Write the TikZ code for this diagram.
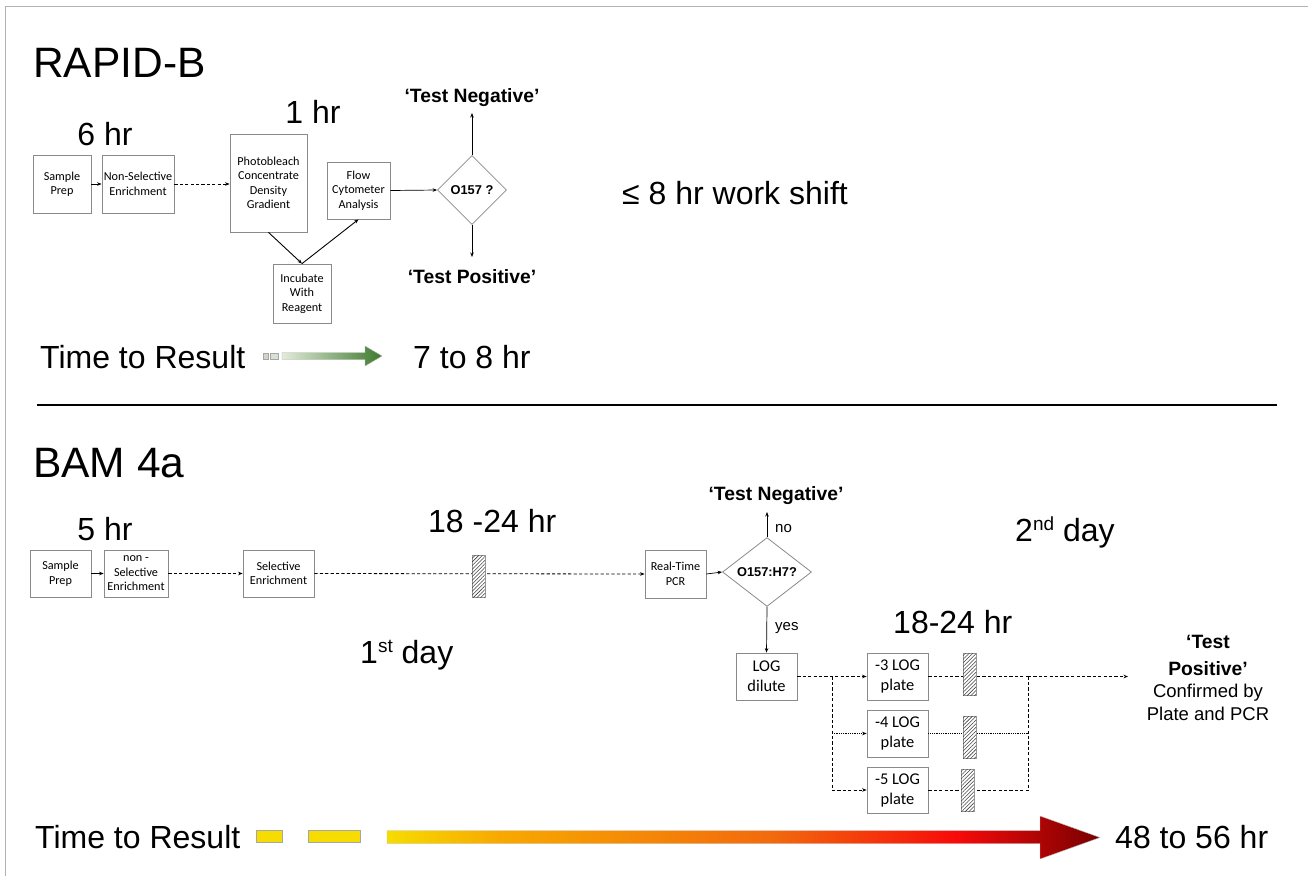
\documentclass[tikz,border=0pt]{standalone}
\usepackage{fontspec}
\setmainfont{Liberation Sans}
\newfontfamily\carl{Carlito}
\usetikzlibrary{shapes.geometric,patterns.meta,arrows.meta}
\definecolor{boxgray}{HTML}{8A8A8A}
\definecolor{gA}{HTML}{E2ECD9}
\definecolor{gB}{HTML}{3C7A2C}
\definecolor{yl}{HTML}{F6DC00}
\definecolor{orA}{HTML}{F8A800}
\definecolor{orB}{HTML}{F26A0C}
\definecolor{rd}{HTML}{F70A0A}
\definecolor{drd}{HTML}{780000}
\pgfdeclarehorizontalshading{heat}{100bp}{color(0bp)=(yl); color(25bp)=(yl); color(33bp)=(orA); color(52bp)=(orB); color(65bp)=(rd); color(75bp)=(drd); color(100bp)=(drd)}
\tikzset{
  box/.style={draw=boxgray, line width=0.8pt, fill=white, align=center, inner sep=0pt,
    font=\carl\fontsize{12.2}{14.5}\selectfont},
  bigbox/.style={box, font=\carl\fontsize{16.4}{20}\selectfont},
  dia/.style={diamond, draw=boxgray, line width=0.8pt, fill=white, inner sep=0pt,
    font=\bfseries\fontsize{12.8}{14}\selectfont},
  arr/.style={-{Stealth[length=4.5pt,width=3.5pt]}, line width=0.7pt},
  dsh/.style={dash pattern=on 3.2pt off 2.2pt, line width=0.8pt},
  dtt/.style={dash pattern=on 0.9pt off 0.9pt, line width=0.7pt},
  hatchbox/.style={draw=gray!80, line width=0.6pt, fill=white, inner sep=0pt,
    postaction={pattern={Lines[angle=45,distance=2.6pt,line width=0.55pt]}, pattern color=black!75}},
  big/.style={font=\fontsize{32}{36}\selectfont, inner sep=0pt},
  title/.style={font=\fontsize{42.5}{48}\selectfont, inner sep=0pt},
  res/.style={font=\bfseries\fontsize{19.3}{22}\selectfont, inner sep=0pt},
  small/.style={font=\fontsize{15}{18}\selectfont, inner sep=0pt},
}
\begin{document}
\begin{tikzpicture}[x=1pt,y=-1pt]
\useasboundingbox (0,0) rectangle (1308,876);
\draw[gray!60, line width=0.8pt] (5,876) -- (5,6) -- (1308,6);

% ================= RAPID-B =================
\node[title, anchor=base west] (t1) at (33,77) {RAPID-B};
\node[big, anchor=base] (h6) at (105,145) {6 hr};
\node[big, anchor=base] (h1) at (313,123) {1 hr};
\node[big, anchor=base west] (shift) at (622,204) {≤ 8 hr work shift};

\node[box, minimum width=58, minimum height=58] (sp1) at (62,184) {Sample\\Prep};
\node[box, minimum width=72, minimum height=58] (nse1) at (138,184) {Non-Selective\\Enrichment};
\node[box, minimum width=77, minimum height=98] (pb) at (268.5,183) {Photobleach\\Concentrate\\Density\\Gradient};
\node[box, minimum width=63, minimum height=57] (fc) at (358.5,190.5) {Flow\\Cytometer\\Analysis};
\node[box, minimum width=58, minimum height=59] (inc) at (302,293.5) {Incubate\\With\\Reagent};
\node[dia, minimum width=69, minimum height=69] (d1) at (472,190) {O157 ?};

\coordinate (n1) at (472,113);
\coordinate (p1) at (472,257);
\node[res, anchor=base] (neg1) at (472,102) {‘Test Negative’};
\node[res, anchor=base] (pos1) at (472,283) {‘Test Positive’};

\draw[arr] (sp1.east) -- (nse1.west);
\draw[arr, dsh] (nse1.east) -- (pb.west |- nse1.east);
\draw[arr, line width=0.9pt] (pb.south) -- (inc.north);
\draw[arr, line width=0.9pt] (inc.north) -- (fc.south);
\draw[arr] (fc.east) -- (d1.west);
\draw[arr] (d1.north) -- (n1);
\draw[arr] (d1.south) -- (p1);

\node[big, anchor=base west] (ttr1) at (40,368) {Time to Result};
\node[big, anchor=base west] (r1) at (413,368) {7 to 8 hr};
\filldraw[fill=gA!80!gray, draw=gray!70, line width=0.5pt] (263,353) rectangle (268,359);
\filldraw[fill=gA!90!gray, draw=gray!70, line width=0.5pt] (270,353) rectangle (278,359);
\shade[left color=gA, right color=gB, draw=gray!60, line width=0.4pt]
  (282,352.5) -- (365,352.5) -- (365,346) -- (382,356) -- (365,366) -- (365,359.5) -- (282,359.5) -- cycle;

% separator
\draw[line width=2.4pt] (37,405) -- (1277,405);

% ================= BAM 4a =================
\node[title, anchor=base west] (t2) at (33,477) {BAM 4a};
\node[big, anchor=base] (h5) at (105,540) {5 hr};
\node[big, anchor=base west] (h1824a) at (428,532) {18 -24 hr};
\node[big, anchor=base west] (day2) at (1015,541) {2\raisebox{11pt}{\fontsize{19}{19}\selectfont nd} day};
\node[big, anchor=base west] (day1) at (360,663) {1\raisebox{11pt}{\fontsize{19}{19}\selectfont st} day};
\node[big, anchor=base west] (h1824b) at (893,633) {18-24 hr};

\node[box, minimum width=61, minimum height=47] (sp2) at (60.5,573.5) {Sample\\Prep};
\node[box, minimum width=64, minimum height=47] (nse2) at (136,573.5) {non -\\Selective\\Enrichment};
\node[box, minimum width=71, minimum height=47] (se) at (278.5,573.5) {Selective\\Enrichment};
\node[box, minimum width=61, minimum height=48] (pcr) at (675.5,574) {Real-Time\\PCR};
\node[dia, minimum width=89, minimum height=68] (d2) at (767,572) {O157:H7?};
\node[bigbox, minimum width=61, minimum height=47] (log) at (766.5,676.5) {LOG\\dilute};
\node[bigbox, minimum width=61, minimum height=47] (p3) at (897.5,676.5) {-3 LOG\\plate};
\node[bigbox, minimum width=61, minimum height=47] (p4) at (897.5,733.5) {-4 LOG\\plate};
\node[bigbox, minimum width=61, minimum height=46] (p5) at (897.5,790) {-5 LOG\\plate};

\coordinate (n2) at (767,512);
\node[res, anchor=base] (neg2) at (776,500) {‘Test Negative’};
\node[small, anchor=base west] (no) at (775,532) {no};
\node[small, anchor=base west] (yes) at (775,630) {yes};

\draw[arr] (sp2.east) -- (nse2.west);
\draw[arr, dsh] (nse2.east) -- (se.west);
\draw[arr, dsh] (se.east) -- (pcr.west);
\draw[arr] (pcr.east) -- (d2.west);
\draw[arr] (d2.north) -- (n2);
\draw[arr] (d2.south) -- (log.north);

\coordinate (sL) at (832,676.5);
\coordinate (sL4) at (832,733.5);
\coordinate (sL5) at (832,790);
\coordinate (sR) at (1028,676.5);
\coordinate (sR4) at (1028,733.5);
\coordinate (sR5) at (1028,790);
\coordinate (fin) at (1128,676.5);

\draw[arr, dsh] (log.east) -- (p3.west);
\draw[dsh] (sL) -- (sL5);
\draw[arr, dtt] (sL4) -- (p4.west);
\draw[arr, dsh] (sL5) -- (p5.west);
\draw[dsh] (p3.east) -- (sR);
\draw[dtt] (p4.east) -- (sR4);
\draw[dsh] (p5.east) -- (sR5);
\draw[dsh] (sR) -- (sR5);
\draw[arr, dsh] (sR) -- (fin);

\node[hatchbox, minimum width=13, minimum height=42] (hb0) at (478.5,576) {};
\node[hatchbox, minimum width=13, minimum height=42] (hb3) at (969.5,674) {};
\node[hatchbox, minimum width=13, minimum height=42] (hb4) at (969.5,737) {};
\node[hatchbox, minimum width=13, minimum height=42] (hb5) at (967.5,790) {};

\node[res, anchor=base] (pos2a) at (1208,648) {‘Test};
\node[res, anchor=base] (pos2b) at (1208,675) {Positive’};
\node[font=\fontsize{18.5}{22}\selectfont, inner sep=0pt, anchor=base] (conf1) at (1208,697) {Confirmed by};
\node[font=\fontsize{18.5}{22}\selectfont, inner sep=0pt, anchor=base] (conf2) at (1208,720) {Plate and PCR};

\node[big, anchor=base west] (ttr2) at (35,848) {Time to Result};
\node[big, anchor=base west] (r2) at (1115,848) {48 to 56 hr};
\filldraw[fill=yl, draw=gray!70, line width=0.5pt] (256,830.5) rectangle (282,842.5);
\filldraw[fill=yl, draw=gray!70, line width=0.5pt] (308,830.5) rectangle (360,842.5);
\shade[shading=heat, draw=gray!50, line width=0.4pt]
  (387,830.5) -- (1040,830.5) -- (1040,816) -- (1100,837.5) -- (1040,859) -- (1040,843.5) -- (387,843.5) -- cycle;
\end{tikzpicture}
\end{document}
